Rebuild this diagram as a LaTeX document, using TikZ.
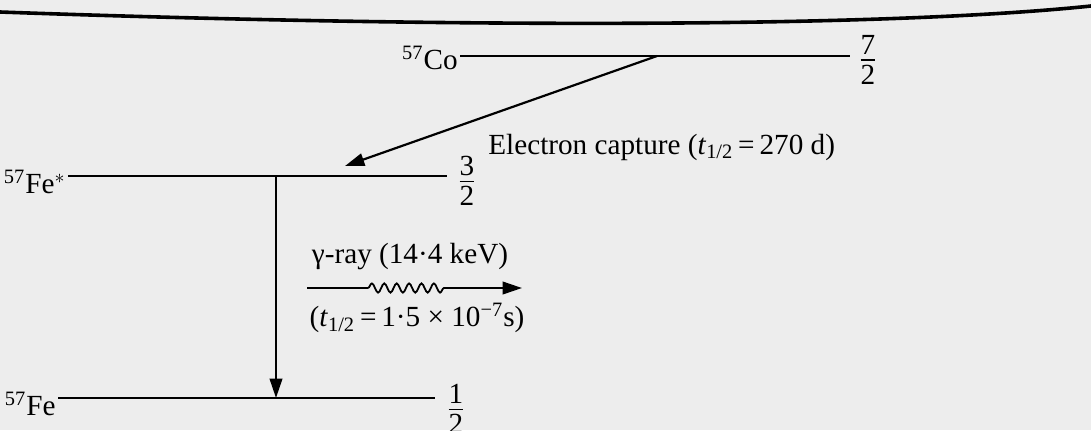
\documentclass[tikz,border=0pt]{standalone}
\usepackage{amsmath}
\usepackage{fontspec}
\setmainfont{Liberation Serif}
\usepackage{tikz}
\usetikzlibrary{arrows.meta,positioning,decorations.pathmorphing}

\newcommand{\spinfrac}[2]{$\frac{\mbox{#1}\rule[-2pt]{0pt}{1pt}}{\rule{0pt}{11.5pt}\mbox{#2}}$}

\begin{document}
\begin{tikzpicture}[
    x=0.5pt, y=-0.5pt,
    level/.style={line width=1.1pt, black},
    lbl/.style={font=\fontsize{14.6}{17}\selectfont, inner sep=1pt},
    spin/.style={font=\fontsize{14.6}{17}\selectfont, inner sep=0pt},
    arrow/.style={-{Triangle[length=3.4mm, width=2.2mm]}, line width=1.1pt},
    wave/.style={decorate, decoration={snake, amplitude=2.3pt, segment length=6.2pt}, line width=0.9pt}
]
    % page and rule from the scan
    \fill[white!93!black] (0,0) rectangle (1091,430);
    \useasboundingbox (0,0) rectangle (1091,430);
    \draw[line width=1.8pt] (0,12) .. controls (450,28) and (880,28) .. (1091,6);

    % levels
    \coordinate (co-l)  at (460,56);
    \coordinate (co-r)  at (850,56);
    \coordinate (fes-l) at (68,176);
    \coordinate (fes-r) at (447,176);
    \coordinate (fe-l)  at (58,398);
    \coordinate (fe-r)  at (435,398);

    \draw[level] (co-l)  -- (co-r);
    \draw[level] (fes-l) -- (fes-r);
    \draw[level] (fe-l)  -- (fe-r);

    \node[lbl, anchor=east] (co)  at ([yshift=-1pt]co-l)  {\textsuperscript{57}Co};
    \node[lbl, anchor=east] (fes) at ([yshift=-3pt]fes-l) {\textsuperscript{57}Fe$^{*}$};
    \node[lbl, anchor=east] (fe)  at ([yshift=-3pt]fe-l)  {\textsuperscript{57}Fe};

    \node[spin] (j-co)  at (868,60)  {\spinfrac{7}{2}};
    \node[spin] (j-fes) at (467,181) {\spinfrac{3}{2}};
    \node[spin] (j-fe)  at (456,409) {\spinfrac{1}{2}};

    % electron capture
    \coordinate (ec-a) at (657,56);
    \coordinate (ec-b) at (345,166);
    \draw[arrow] (ec-a) -- (ec-b);
    \node[lbl, anchor=west] (ec) at (486,147)
        {Electron capture (\textit{t}\textsubscript{1/2}\,=\,270 d)};

    % gamma transition
    \coordinate (g-a) at (276,176);
    \coordinate (g-b) at (276,398);
    \draw[arrow] (g-a) -- (g-b);

    \coordinate (r-a) at (307,288);
    \coordinate (w-a) at (368,288);
    \coordinate (w-b) at (448,288);
    \coordinate (r-b) at (522,288);
    \draw[line width=1.1pt] (r-a) -- (w-a);
    \draw[wave] (w-a) -- (w-b);
    \draw[arrow] (w-b) -- (r-b);

    \node[lbl] (gam)  at (410,257) {γ-ray (14·4 keV)};
    \node[lbl] (half) at (417,318)
        {(\textit{t}\textsubscript{1/2}\,=\,1·5 × 10\textsuperscript{−7}s)};
\end{tikzpicture}
\end{document}
